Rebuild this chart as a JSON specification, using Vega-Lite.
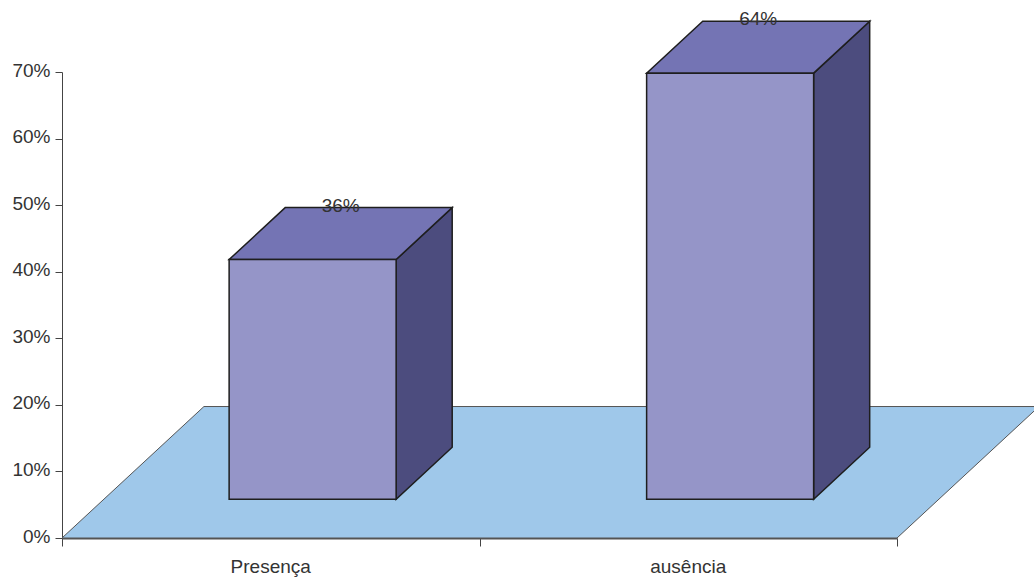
{
  "$schema": "https://vega.github.io/schema/vega-lite/v6.json",
  "autosize": "none",
  "width": 835,
  "height": 466,
  "padding": {"left": 62, "top": 72, "right": 137, "bottom": 40},
  "background": "white",
  "config": {
    "view": {"stroke": null},
    "font": "Liberation Sans, Arial, sans-serif"
  },
  "data": {
    "values": [
      {"categoria": "Presença", "percentual": 0.36},
      {"categoria": "ausência", "percentual": 0.64}
    ]
  },
  "transform": [
    {"window": [{"op": "row_number", "as": "rn"}]},
    {"calculate": "datum.rn - 1", "as": "i"},
    {"calculate": "0.295", "as": "front"},
    {"calculate": "0.69", "as": "back"},
    {"fold": ["front", "back"], "as": ["face", "d"]}
  ],
  "layer": [
    {
      "description": "floor of the 3D plot",
      "transform": [
        {"aggregate": [{"op": "distinct", "field": "categoria", "as": "n"}]},
        {"calculate": "0", "as": "near"},
        {"calculate": "1", "as": "far"},
        {"fold": ["near", "far"], "as": ["edge", "fd"]},
        {"calculate": "datum.fd * 0.34", "as": "fx"},
        {"calculate": "datum.n + datum.fd * 0.34", "as": "fx2"},
        {"calculate": "datum.fd * 0.1975", "as": "fy"}
      ],
      "mark": {"type": "area", "orient": "horizontal", "fill": "#9FC8EA", "stroke": "#555555", "strokeWidth": 1},
      "encoding": {
        "y": {
          "field": "fy", "type": "quantitative", "title": null,
          "scale": {"domain": [0, 0.7], "nice": false, "zero": true},
          "axis": {
            "title": null, "grid": false,
            "values": [0, 0.1, 0.2, 0.3, 0.4, 0.5, 0.6, 0.7],
            "format": ".0%",
            "labelFont": "Liberation Sans, Arial, sans-serif",
            "labelFontSize": 19, "labelColor": "#333333",
            "labelPadding": 5, "labelOffset": -2,
            "tickSize": 7, "tickColor": "#444444", "domainColor": "#444444", "domainWidth": 1
          }
        },
        "x": {
          "field": "fx", "type": "quantitative", "title": null,
          "scale": {"domain": [0, 2], "nice": false, "zero": false},
          "axis": {
            "title": null, "grid": false, "labels": false,
            "values": [0, 1, 2],
            "tickSize": 8, "tickColor": "#444444", "domainColor": "#555555", "domainWidth": 2
          }
        },
        "x2": {"field": "fx2"}
      }
    },
    {
      "description": "right side faces of the bars",
      "transform": [
        {"calculate": "datum.i + 0.7 + datum.d * 0.34", "as": "sx"},
        {"calculate": "datum.d * 0.1975 + datum.percentual", "as": "sy"},
        {"calculate": "datum.d * 0.1975", "as": "sy2"}
      ],
      "mark": {"type": "area", "orient": "vertical", "fill": "#4C4C7E", "stroke": "#1e1e1e", "strokeWidth": 1.5},
      "encoding": {
        "x": {"field": "sx", "type": "quantitative", "title": null},
        "y": {"field": "sy", "type": "quantitative", "title": null},
        "y2": {"field": "sy2"},
        "detail": {"field": "categoria"}
      }
    },
    {
      "description": "top faces of the bars",
      "transform": [
        {"calculate": "datum.i + 0.3 + datum.d * 0.34", "as": "tx"},
        {"calculate": "datum.i + 0.7 + datum.d * 0.34", "as": "tx2"},
        {"calculate": "datum.d * 0.1975 + datum.percentual", "as": "ty"}
      ],
      "mark": {"type": "area", "orient": "horizontal", "fill": "#7474B4", "stroke": "#1e1e1e", "strokeWidth": 1.5},
      "encoding": {
        "y": {"field": "ty", "type": "quantitative", "title": null},
        "x": {"field": "tx", "type": "quantitative", "title": null},
        "x2": {"field": "tx2"},
        "detail": {"field": "categoria"}
      }
    },
    {
      "description": "front faces of the bars",
      "transform": [
        {"filter": "datum.face === 'front'"},
        {"calculate": "datum.i + 0.3 + datum.d * 0.34", "as": "rx"},
        {"calculate": "datum.i + 0.7 + datum.d * 0.34", "as": "rx2"},
        {"calculate": "datum.d * 0.1975", "as": "ry"},
        {"calculate": "datum.d * 0.1975 + datum.percentual", "as": "ry2"}
      ],
      "mark": {"type": "rect", "fill": "#9595C8", "stroke": "#1e1e1e", "strokeWidth": 1.5},
      "encoding": {
        "x": {"field": "rx", "type": "quantitative", "title": null},
        "x2": {"field": "rx2"},
        "y": {"field": "ry", "type": "quantitative", "title": null},
        "y2": {"field": "ry2"}
      }
    },
    {
      "description": "value labels above the bars",
      "transform": [
        {"filter": "datum.face === 'front'"},
        {"calculate": "datum.i + 0.5 + 0.1675", "as": "lx"},
        {"calculate": "0.69 * 0.1975 + datum.percentual", "as": "ly"}
      ],
      "mark": {"type": "text", "align": "center", "baseline": "middle", "dy": -2, "fontSize": 19, "color": "#333333"},
      "encoding": {
        "x": {"field": "lx", "type": "quantitative", "title": null},
        "y": {"field": "ly", "type": "quantitative", "title": null},
        "text": {"field": "percentual", "type": "quantitative", "format": ".0%"}
      }
    },
    {
      "description": "category labels under the axis",
      "transform": [
        {"filter": "datum.face === 'front'"},
        {"calculate": "datum.i + 0.5", "as": "cx"},
        {"calculate": "0", "as": "cy"}
      ],
      "mark": {"type": "text", "align": "center", "baseline": "alphabetic", "dy": 35, "fontSize": 19, "color": "#333333"},
      "encoding": {
        "x": {"field": "cx", "type": "quantitative", "title": null},
        "y": {"field": "cy", "type": "quantitative", "title": null},
        "text": {"field": "categoria", "type": "nominal"}
      }
    }
  ]
}
